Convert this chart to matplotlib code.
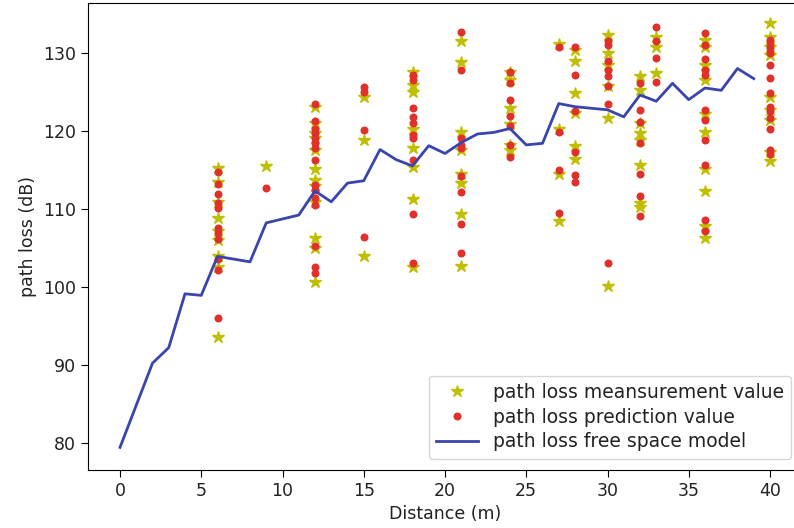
import matplotlib
matplotlib.use("Agg")
import matplotlib.pyplot as plt
import numpy as np


# free space model curve
model_x = [0, 2, 3, 4, 5, 6, 8, 9, 11, 12, 13, 14, 15, 16, 17, 18, 19, 20, 21, 22,
           23, 24, 25, 26, 27, 28, 30, 31, 32, 33, 34, 35, 36, 37, 38, 39]
model_y = [79.4, 90.2, 92.2, 99.1, 98.9, 103.9, 103.2, 108.2, 109.2, 112.3, 110.9, 113.3,
           113.6, 117.6, 116.3, 115.5, 118.1, 117.1, 118.5, 119.6, 119.8, 120.3, 118.2,
           118.4, 123.5, 123.1, 122.7, 121.8, 124.6, 123.8, 126.1, 124.0, 125.5, 125.2,
           128.0, 126.7]

# distances where measurements were taken
distances = [6, 9, 12, 15, 18, 21, 24, 27, 28, 30, 32, 33, 36, 40]

measured = [
    [115.3, 113.5, 110.9, 108.8, 107.1, 106.0, 103.9, 102.5, 93.6],
    [115.5],
    [123.0, 121.0, 119.7, 119.1, 117.6, 115.1, 113.7, 112.9, 110.9, 106.2, 105.0, 100.6],
    [124.4, 118.8, 103.9],
    [127.6, 125.9, 125.0, 120.3, 117.8, 115.4, 111.2, 102.6],
    [131.5, 128.8, 119.9, 117.6, 114.5, 113.3, 109.4, 102.7],
    [127.6, 126.5, 122.9, 120.9, 118.2, 117.6],
    [131.2, 120.3, 114.5, 108.4],
    [130.4, 129.0, 124.8, 122.3, 118.1, 116.4],
    [132.3, 130.0, 128.4, 125.7, 121.6, 100.1],
    [127.0, 125.2, 121.0, 119.7, 118.8, 115.6, 110.7, 110.2],
    [132.1, 130.7, 127.4],
    [131.7, 130.7, 128.5, 126.5, 122.1, 119.9, 115.1, 112.3, 107.8, 106.2],
    [133.8, 132.1, 130.8, 129.7, 124.4, 122.7, 121.4, 117.3, 116.1],
]

predicted = [
    [114.7, 113.2, 111.9, 110.7, 110.1, 107.5, 106.9, 106.1, 103.5, 102.2, 96.0],
    [112.7],
    [123.5, 121.3, 120.3, 119.7, 119.1, 118.4, 117.8, 116.2, 113.1, 112.4, 111.4, 110.5,
     105.2, 102.6, 101.8],
    [125.6, 125.0, 120.1, 106.4],
    [127.2, 126.5, 122.9, 121.8, 121.0, 119.5, 119.1, 116.3, 109.4, 103.0],
    [132.7, 127.8, 119.1, 118.2, 117.8, 114.2, 112.2, 108.1, 104.3],
    [127.6, 126.1, 123.9, 121.9, 120.6, 118.2, 116.6],
    [130.8, 119.9, 115.0, 109.5],
    [130.7, 127.2, 122.5, 117.3, 114.4, 113.5],
    [131.5, 131.0, 128.9, 127.8, 127.0, 125.7, 123.5, 103.1],
    [126.2, 122.7, 121.2, 118.4, 114.5, 111.6, 109.1],
    [133.3, 131.5, 129.4, 126.3],
    [132.5, 131.0, 129.2, 127.8, 127.2, 122.7, 121.4, 118.8, 115.6, 108.6, 107.1],
    [131.7, 131.2, 130.6, 130.0, 128.5, 126.8, 124.8, 123.1, 122.5, 121.6, 120.3, 117.6,
     117.0],
]


def flatten(columns, values):
    xs = []
    ys = []
    for d, col in zip(columns, values):
        xs.extend([d] * len(col))
        ys.extend(col)
    return np.array(xs), np.array(ys)


def main():
    plt.rcParams["font.family"] = "DejaVu Sans"
    plt.rcParams["font.size"] = 12.5
    plt.rcParams["text.color"] = "#222222"
    plt.rcParams["axes.labelcolor"] = "#222222"
    plt.rcParams["xtick.labelcolor"] = "#222222"
    plt.rcParams["ytick.labelcolor"] = "#222222"

    meas_x, meas_y = flatten(distances, measured)
    pred_x, pred_y = flatten(distances, predicted)

    fig = plt.figure(figsize=(7.94, 5.28), dpi=100)
    ax = fig.add_axes([87.5 / 794, 58 / 528, 715 / 794, 467 / 528])

    ax.plot(meas_x, meas_y, "*", color="#bfbf00", markersize=9, label="path loss meansurement value")
    ax.plot(pred_x, pred_y, ".", color="#e0302a", markersize=9.5, label="path loss prediction value")
    ax.plot(model_x, model_y, "-", color="#3a44ad", linewidth=2, label="path loss free space model")

    ax.set_xlim(-2, 42)
    ax.set_ylim(76.5, 136.4)
    ax.set_xticks(np.arange(0, 41, 5))
    ax.set_yticks(np.arange(80, 131, 10))
    ax.set_xlabel("Distance (m)")
    ax.set_ylabel("path loss (dB)")
    ax.tick_params(length=5)

    ax.legend(loc="lower right", fontsize=13.5, labelspacing=0.3, handlelength=2.2,
              borderaxespad=0.6)

    fig.savefig("out.png", dpi=100)
    plt.close(fig)


if __name__ == "__main__":
    main()
